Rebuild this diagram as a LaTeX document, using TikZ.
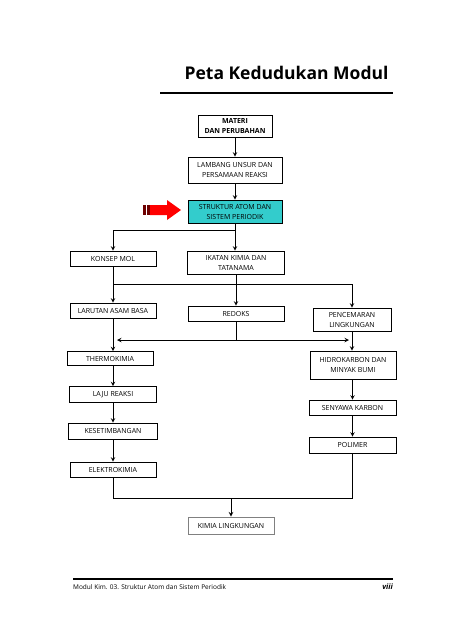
\documentclass[tikz,border=0pt]{standalone}
\usepackage{fontspec}
\setmainfont{Open Sans}
\usetikzlibrary{positioning}
\tikzstyle{arrow} = [line width=1pt,->,>=stealth]
\tikzstyle{box} = [draw, line width=0.7pt, align=center, inner sep=0pt, font=\fontsize{7}{10}\selectfont]
\definecolor{boxcyan}{RGB}{51,204,204}
\definecolor{stripered}{RGB}{110,0,0}

\begin{document}
\begin{tikzpicture}[x=1pt,y=-1pt]
    \useasboundingbox (0,0) rectangle (453,640);

    \node (title) [anchor=base east, font=\fontsize{17.5}{20}\selectfont\bfseries] at (392,79) {Peta Kedudukan Modul};
    \draw [line width=2pt] (160,93) -- (393,93);

    \node (materi) [box, minimum width=74pt, minimum height=22pt, font=\fontsize{7}{10}\selectfont\bfseries] at (235,126) {MATERI\\DAN PERUBAHAN};

    \node (lambang) [box, minimum width=94pt, minimum height=26pt] at (235,170) {LAMBANG UNSUR DAN\\PERSAMAAN REAKSI};
    \draw [arrow] (materi) -- (lambang);

    \node (struktur) [box, fill=boxcyan, minimum width=94pt, minimum height=23pt] at (235,211.5) {STRUKTUR ATOM DAN\\SISTEM PERIODIK};
    \draw [arrow] (lambang) -- (struktur);

    % red pointer on the left of the current module
    \fill [red] (150,205) -- (167,205) -- (167,200) -- (181,210) -- (167,220) -- (167,215) -- (150,215) -- cycle;
    \fill [stripered] (143,205) rectangle (146,215);
    \fill [stripered] (147,205) rectangle (149.5,215);

    \node (konsep) [box, minimum width=86pt, minimum height=15pt] at (113,258.5) {KONSEP MOL};
    \node (ikatan) [box, minimum width=97pt, minimum height=23pt] at (236,262.5) {IKATAN KIMIA DAN\\TATANAMA};
    \coordinate (split1) at (235,230);
    \draw [arrow] (struktur.south) -- (struktur.south |- ikatan.north);
    \draw [arrow] (split1) -| (konsep.north);

    \node (larutan) [box, minimum width=86pt, minimum height=15pt] at (113,310.5) {LARUTAN ASAM BASA};
    \draw [arrow] (konsep) -- (larutan);

    \node (redoks) [box, minimum width=96pt, minimum height=15pt] at (236,313.5) {REDOKS};
    \draw [arrow] (ikatan) -- (redoks);

    \node (pencemaran) [box, minimum width=78pt, minimum height=23pt] at (352,319.5) {PENCEMARAN\\LINGKUNGAN};
    \coordinate (split2) at (113,284);
    \draw [arrow] (split2) -| (pencemaran.north);

    \node (thermo) [box, minimum width=86pt, minimum height=14pt] at (110,358.5) {THERMOKIMIA};
    \node (hidro) [box, minimum width=86pt, minimum height=28pt] at (353,365) {HIDROKARBON DAN\\MINYAK BUMI};
    \draw [arrow] (larutan.south) -- (larutan.south |- thermo.north);
    \draw [arrow] (pencemaran.south) -- (pencemaran.south |- hidro.north);

    \coordinate (split3) at (236,340);
    \draw [line width=1pt] (redoks) -- (split3);
    \draw [arrow] (split3) -- (117,340);
    \draw [arrow] (split3) -- (349,340);

    \node (laju) [box, minimum width=87pt, minimum height=16pt] at (113,394.5) {LAJU REAKSI};
    \draw [arrow] (thermo.south -| laju) -- (laju);

    \node (setimbang) [box, minimum width=89pt, minimum height=16pt] at (113,431) {KESETIMBANGAN};
    \draw [arrow] (laju) -- (setimbang);

    \node (elektro) [box, minimum width=86pt, minimum height=15pt] at (113,469.5) {ELEKTROKIMIA};
    \draw [arrow] (setimbang) -- (elektro);

    \node (senyawa) [box, minimum width=87pt, minimum height=15pt] at (352.5,407.5) {SENYAWA KARBON};
    \draw [arrow] (hidro.south -| senyawa) -- (senyawa);

    \node (polimer) [box, minimum width=87pt, minimum height=16pt] at (352.5,445) {POLIMER};
    \draw [arrow] (senyawa) -- (polimer);

    \node (kimia) [box, draw=gray, line width=1pt, minimum width=86pt, minimum height=17pt] at (231,525.5) {KIMIA LINGKUNGAN};
    \coordinate (join) at (231,498);
    \draw [line width=1pt] (elektro.south) |- (join);
    \draw [line width=1pt] (join) -| (polimer.south);
    \draw [arrow] (join) -- (kimia.north);

    \draw [line width=2pt] (73,579) -- (393,579);
    \node (footer) [anchor=base west, inner sep=0pt, font=\fontsize{6.5}{8}\selectfont] at (73,589) {Modul Kim. 03. Struktur Atom dan Sistem Periodik};
    \node (page) [anchor=base east, inner sep=0pt, font=\fontsize{7.5}{9}\selectfont\bfseries\itshape] at (393,589) {viii};
  \end{tikzpicture}
\end{document}
